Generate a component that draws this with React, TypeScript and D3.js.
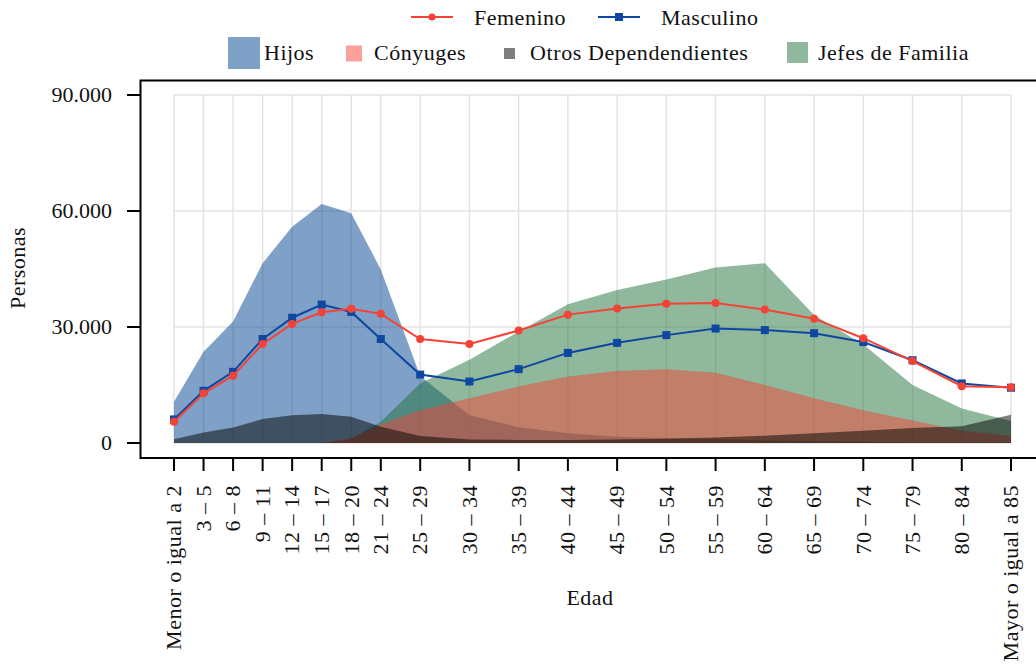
import React from "react";
import * as d3 from "d3";

const categories = [
  "Menor o igual a 2", "3 – 5", "6 – 8", "9 – 11", "12 – 14", "15 – 17", "18 – 20",
  "21 – 24", "25 – 29", "30 – 34", "35 – 39", "40 – 44", "45 – 49", "50 – 54",
  "55 – 59", "60 – 64", "65 – 69", "70 – 74", "75 – 79", "80 – 84", "Mayor o igual a 85",
];
const ageStart = [0, 3, 6, 9, 12, 15, 18, 21, 25, 30, 35, 40, 45, 50, 55, 60, 65, 70, 75, 80, 85];

const femenino = [5500, 12850, 17400, 25600, 30800, 33800, 34700, 33400, 26900, 25600, 29100, 33200, 34800, 36000, 36200, 34500, 32150, 27100, 21200, 14700, 14400];
const masculino = [6100, 13500, 18400, 26900, 32400, 35800, 33900, 26900, 17700, 15900, 19100, 23300, 25900, 27900, 29600, 29200, 28400, 26100, 21400, 15400, 14300];
const hijos = [10700, 23600, 31400, 46500, 55900, 61800, 59400, 44900, 17300, 7200, 4100, 2500, 1600, 1300, 1000, 700, 500, 300, 200, 100, 100];
const conyuges = [0, 0, 0, 0, 0, 0, 1300, 4800, 8500, 11600, 14600, 17200, 18600, 19100, 18200, 15000, 11600, 8500, 5800, 3200, 1800];
const otros = [1000, 2700, 4000, 6200, 7200, 7500, 6800, 4200, 1800, 900, 800, 800, 900, 1100, 1400, 1900, 2500, 3200, 3900, 4300, 7300];
const jefes = [0, 0, 0, 0, 0, 0, 1000, 5500, 15400, 21500, 28800, 35900, 39600, 42300, 45400, 46500, 33100, 25500, 15000, 8900, 5700];

const yTicks = [0, 30000, 60000, 90000];

const FONT = "'Liberation Serif', 'Times New Roman', serif";

export default function App() {
  const W = 1036, H = 664;
  const x = d3.scaleLinear().domain([0, 85]).range([174, 1011]);
  const y = d3.scaleLinear().domain([0, 90000]).range([443, 95]);

  const areaGen = (vals: number[]) =>
    d3.area<number>()
      .x((_, i) => x(ageStart[i]))
      .y0(y(0))
      .y1((d) => y(d))(vals) || "";
  const lineGen = (vals: number[]) =>
    d3.line<number>()
      .x((_, i) => x(ageStart[i]))
      .y((d) => y(d))(vals) || "";

  const fmt = (v: number) => (v === 0 ? "0" : d3.format(",")(v).replace(/,/g, "."));

  const areas = [
    { vals: hijos, fill: "rgb(0,68,143)" },
    { vals: jefes, fill: "rgb(31,113,57)" },
    { vals: conyuges, fill: "#F44336" },
    { vals: otros, fill: "#000000" },
  ];

  const red = "#F44336";
  const blue = "#0D47A1";
  const LS = 0.5;

  return (
    <svg width={W} height={H} style={{ position: "absolute", left: 0, top: 0, background: "#fff" }} fontFamily={FONT}>
      {/* grid */}
      <g stroke="#e3e3e3" strokeWidth={1.5}>
        {ageStart.map((a, i) => (
          <line key={"vg" + i} x1={x(a)} x2={x(a)} y1={y(90000)} y2={y(0)} />
        ))}
        {yTicks.map((t) => (
          <line key={"hg" + t} x1={x(0)} x2={x(85)} y1={y(t)} y2={y(t)} />
        ))}
      </g>

      {/* areas */}
      {areas.map((a, i) => (
        <path key={"a" + i} d={areaGen(a.vals)} fill={a.fill} fillOpacity={0.5} stroke="none" />
      ))}

      {/* lines */}
      <path d={lineGen(masculino)} fill="none" stroke={blue} strokeWidth={2} />
      {masculino.map((v, i) => (
        <rect key={"m" + i} x={x(ageStart[i]) - 4} y={y(v) - 4} width={8} height={8} fill={blue} />
      ))}
      <path d={lineGen(femenino)} fill="none" stroke={red} strokeWidth={2} />
      {femenino.map((v, i) => (
        <circle key={"f" + i} cx={x(ageStart[i])} cy={y(v)} r={4} fill={red} />
      ))}

      {/* frame */}
      <path d={`M${W + 10},80.5 H140.5 V458 H${W + 10}`} fill="none" stroke="#000" strokeWidth={2} />

      {/* y axis */}
      {yTicks.map((t) => (
        <g key={"yt" + t}>
          <line x1={127} x2={140} y1={y(t)} y2={y(t)} stroke="#000" strokeWidth={2} />
          <text x={112} y={y(t)} dy="0.33em" textAnchor="end" fontSize={22} fill="#111">
            {fmt(t)}
          </text>
        </g>
      ))}
      <text transform="translate(25,268) rotate(-90)" textAnchor="middle" fontSize={22} fill="#111" letterSpacing={LS}>
        Personas
      </text>

      {/* x axis */}
      {ageStart.map((a, i) => (
        <g key={"xt" + i}>
          <line x1={x(a)} x2={x(a)} y1={458} y2={471} stroke="#000" strokeWidth={2} />
          <text
            transform={`translate(${x(a)},485) rotate(-90)`}
            dy="0.33em"
            textAnchor="end"
            fontSize={22}
            fill="#111"
            letterSpacing={LS}
          >
            {categories[i]}
          </text>
        </g>
      ))}
      <text x={590} y={605} textAnchor="middle" fontSize={22} fill="#111" letterSpacing={LS}>
        Edad
      </text>

      {/* legend row 1 */}
      <line x1={411} x2={453} y1={17} y2={17} stroke={red} strokeWidth={2} />
      <circle cx={432} cy={17} r={3.5} fill={red} />
      <text x={474} y={25} fontSize={22} fill="#111" letterSpacing={LS}>Femenino</text>
      <line x1={598} x2={640} y1={17} y2={17} stroke={blue} strokeWidth={2} />
      <rect x={615} y={13} width={8} height={8} fill={blue} />
      <text x={661} y={25} fontSize={22} fill="#111" letterSpacing={LS}>Masculino</text>

      {/* legend row 2 */}
      <rect x={228} y={37} width={32} height={32} fill="rgb(0,68,143)" fillOpacity={0.5} />
      <text x={264} y={60} fontSize={22} fill="#111" letterSpacing={LS}>Hijos</text>
      <rect x={346} y={45.5} width={16} height={16} fill="#F44336" fillOpacity={0.5} />
      <text x={374} y={60} fontSize={22} fill="#111" letterSpacing={LS}>Cónyuges</text>
      <rect x={504} y={48} width={11} height={11} fill="#000" fillOpacity={0.5} />
      <text x={530} y={60} fontSize={22} fill="#111" letterSpacing={0.6}>Otros Dependendientes</text>
      <rect x={787} y={42} width={21} height={21} fill="rgb(31,113,57)" fillOpacity={0.5} />
      <text x={818} y={60} fontSize={22} fill="#111" letterSpacing={LS}>Jefes de Familia</text>
    </svg>
  );
}
